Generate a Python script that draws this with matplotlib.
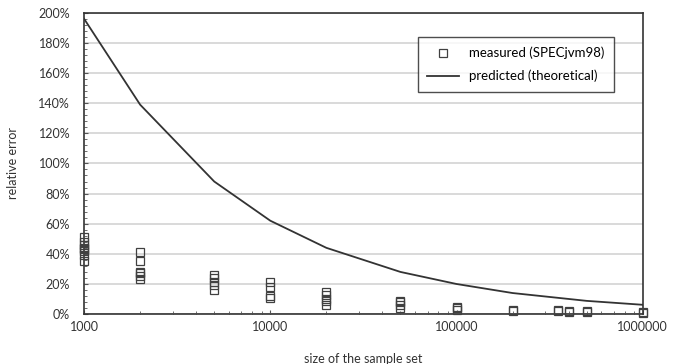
import matplotlib.pyplot as plt
from matplotlib.ticker import MultipleLocator, FixedLocator, LogLocator, NullFormatter

plt.rcParams['font.family'] = ['Lato', 'DejaVu Sans']

# measured relative errors (%) per sample-set size
meas_x = ([1000] * 8 + [2000] * 6 + [5000] * 5 + [10000] * 4 + [20000] * 5
          + [50000] * 4 + [100000] * 3 + [200000] * 2 + [350000] * 2
          + [400000] * 2 + [500000] * 2 + [1000000] * 2)
meas_y = [35, 39, 42, 43, 44, 46, 48, 51,
          41, 35, 28, 27, 25, 23,
          26, 24, 21, 19, 16,
          21, 18, 12, 11,
          15, 13, 10, 9, 6,
          9, 8, 6, 4,
          5, 4, 3,
          3, 2,
          3, 2,
          2, 1.5,
          2, 1.5,
          1.5, 1]

# predicted (theoretical) curve
pred_x = [1000, 2000, 5000, 10000, 20000, 50000, 100000, 200000, 500000, 1000000]
pred_y = [196, 139, 88, 62, 44, 28, 20, 14, 8.8, 6.2]

fig, ax = plt.subplots(figsize=(6.78, 3.64), dpi=100)
fig.subplots_adjust(left=0.124, right=0.948, top=0.965, bottom=0.137)

ax.plot(meas_x, meas_y, linestyle='none', marker='s', markersize=5.5,
        markerfacecolor='none', markeredgecolor='#404040', markeredgewidth=0.9,
        label='measured (SPECjvm98)', zorder=3, clip_on=False)
ax.plot(pred_x, pred_y, color='#333333', linewidth=1.3,
        label='predicted (theoretical)', zorder=3)

ax.set_xscale('log')
ax.set_xlim(1000, 1000000)
ax.set_ylim(0, 200)
ax.yaxis.set_major_locator(MultipleLocator(20))
ax.yaxis.set_minor_locator(MultipleLocator(4))
ax.set_yticklabels([f"{int(v)}%" for v in ax.get_yticks()])
ax.xaxis.set_major_locator(FixedLocator([1000, 10000, 100000, 1000000]))
ax.set_xticklabels(['1000', '10000', '100000', '1000000'])
ax.xaxis.set_minor_locator(LogLocator(base=10, subs=range(2, 10)))
ax.xaxis.set_minor_formatter(NullFormatter())

ax.grid(axis='y', which='major', color='#d9d9d9', linewidth=1.4)
ax.set_axisbelow(True)
ax.tick_params(which='both', direction='in', colors='#555555', labelcolor='#333333',
               labelsize=9)
ax.tick_params(which='major', length=3)
ax.tick_params(which='minor', length=2.5)
ax.tick_params(axis='x', pad=5)
ax.tick_params(axis='y', pad=10)
for s in ax.spines.values():
    s.set_color('#333333')
    s.set_linewidth(1.2)

ax.set_ylabel('relative error', fontsize=9, color='#333333', labelpad=14)
ax.set_xlabel('size of the sample set', fontsize=9, color='#333333', labelpad=14)

leg = ax.legend(loc='upper right', bbox_to_anchor=(0.96, 0.94), fontsize=9.5,
                frameon=True, fancybox=False, edgecolor='#222222',
                handlelength=2.4, borderpad=0.7, labelspacing=0.8)
leg.get_frame().set_linewidth(1.0)

plt.savefig('out.png')
